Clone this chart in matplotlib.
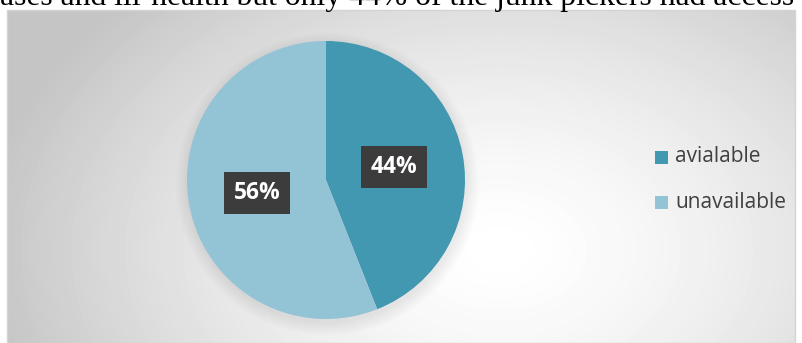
import matplotlib.pyplot as plt
import numpy as np
from matplotlib.patches import Rectangle, Circle

# Datos
labels = ["avialable", "unavailable"]
shares = [44, 56]
colors = ["#4298b0", "#93c4d6"]
caption = "ases and ill-health but only 44% of the junk pickers had access"

W, H = 802, 343
fig = plt.figure(figsize=(W / 100, H / 100), dpi=100)
fig.patch.set_facecolor("white")

# Fondo con degradado radial
x0, y0, x1, y1 = 7, 10, 795, 343
bg = fig.add_axes([x0 / W, 1 - y1 / H, (x1 - x0) / W, (y1 - y0) / H])
xx, yy = np.meshgrid(np.arange(x0, x1), np.arange(y0, y1))
d = np.sqrt(((xx - 500) / 520) ** 2 + ((yy - 250) / 360) ** 2)
shade = 1 - 0.23 * np.clip(d, 0, 1) ** 1.5
bg.imshow(shade, cmap="gray", vmin=0, vmax=1, aspect="auto",
          extent=[0, 1, 0, 1], interpolation="bilinear")
bg.set_axis_off()
fig.add_artist(Rectangle((x0 / W, 0), (x1 - x0) / W, (H - y0) / H,
                         transform=fig.transFigure, fill=False,
                         edgecolor="#d4d4d4", lw=1))

# Texto cortado arriba
fig.text(0.0, 1 - 5 / H, caption, family="Liberation Serif", fontsize=22.8,
         va="baseline", ha="left", color="black")

# Pastel
cx, cy, r = 326, 180, 139
ax = fig.add_axes([(cx - r) / W, 1 - (cy + r) / H, 2 * r / W, 2 * r / H])
ax.set_xlim(-1, 1)
ax.set_ylim(-1, 1)
ax.set_axis_off()
# sombra suave
for i in range(10):
    ax.add_patch(Circle((0.01, -0.03), 1.0 + 0.01 * i, color="black",
                        alpha=0.008, lw=0, clip_on=False))
wedges, _ = ax.pie(shares, colors=colors, startangle=90, counterclock=False,
                   radius=1.0, wedgeprops=dict(lw=0))
ax.set_xlim(-1, 1)
ax.set_ylim(-1, 1)

label_pos = [(68 / r, 13 / r), (-69 / r, -13 / r)]
for (lx, ly), v in zip(label_pos, shares):
    ax.text(lx, ly, f"{v}%", ha="center", va="center", color="white",
            family="Open Sans", fontweight="bold", fontsize=16.5,
            bbox=dict(boxstyle="square,pad=0.4", fc="#3c3c3c", ec="none"))

# Leyenda
for i, (lab, c) in enumerate(zip(labels, colors)):
    yp = 1 - (157 + 45 * i) / H
    fig.add_artist(Rectangle((655 / W, yp - 7 / H), 13 / W, 13 / H,
                             transform=fig.transFigure, color=c, lw=0))
    fig.text(675 / W, yp, lab, family="Open Sans", fontsize=15,
             va="center", ha="left", color="#404040")

fig.savefig("out.png", dpi=100)
